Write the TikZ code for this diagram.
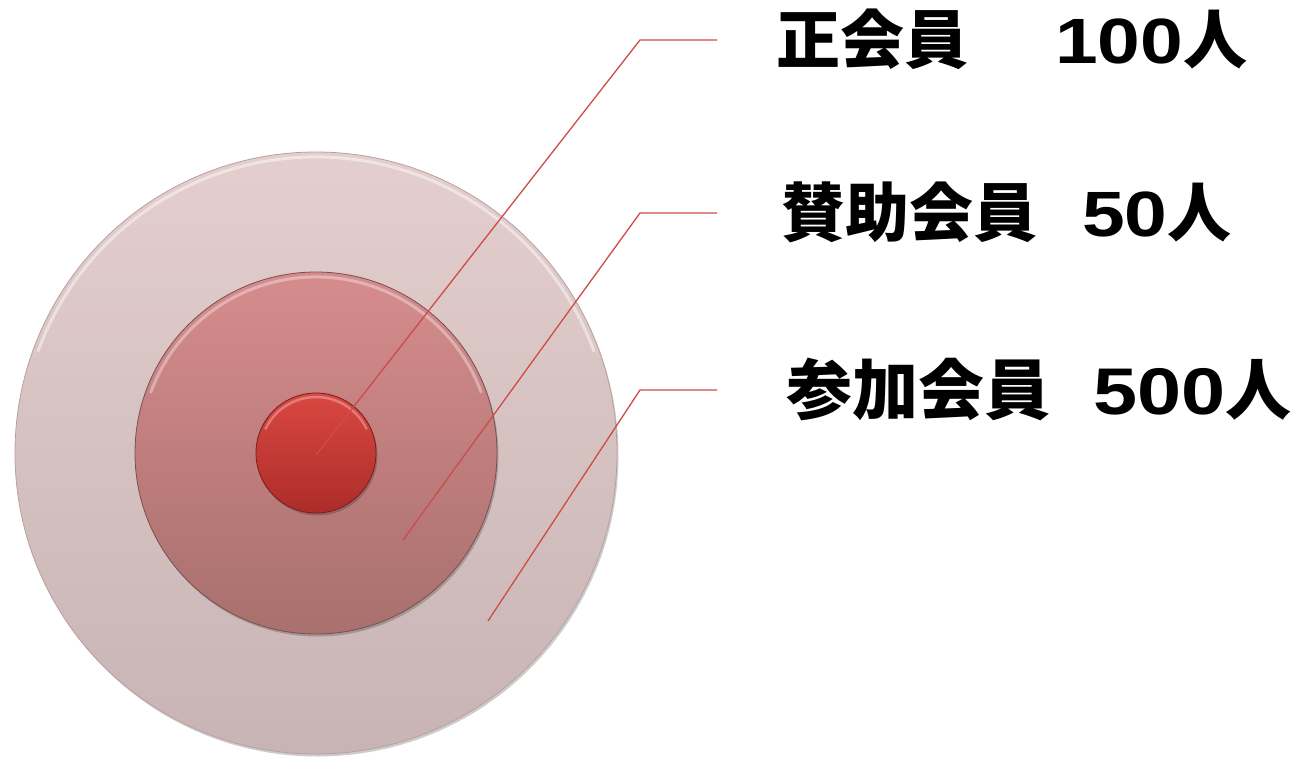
\documentclass[tikz,border=0pt]{standalone}
\usepackage{fontspec}
\newfontfamily\jp{Noto Sans CJK JP}
\newfontfamily\num{Liberation Sans}[FakeStretch=1.2]
\usetikzlibrary{shadows}
\definecolor{ring1t}{RGB}{228,206,206}
\definecolor{ring1b}{RGB}{200,180,180}
\definecolor{ring1e}{RGB}{185,160,160}
\definecolor{ring2t}{RGB}{214,140,140}
\definecolor{ring2b}{RGB}{168,112,110}
\definecolor{ring2e}{RGB}{120,80,80}
\definecolor{ring3t}{RGB}{218,72,66}
\definecolor{ring3b}{RGB}{172,44,40}
\definecolor{ring3e}{RGB}{120,30,28}
\definecolor{leader}{RGB}{205,75,72}
\tikzset{
  disc/.style={circle, inner sep=0pt, draw=#1, line width=0.8pt,
    drop shadow={shadow xshift=1.5pt, shadow yshift=-2.5pt, opacity=0.2, fill=black}},
  lead/.style={draw=leader, line width=1.3pt},
  lbl/.style={anchor=west, inner sep=0pt, font=\jp\bfseries\fontsize{64}{64}\selectfont}
}
\newcommand{\cnt}[1]{{\num\bfseries #1}人}
\begin{document}
\begin{tikzpicture}[x=1pt,y=-1pt]
\useasboundingbox (0,0) rectangle (1299,758);
% rings
\node[disc=ring1e, minimum size=602pt, top color=ring1t, bottom color=ring1b] (outer) at (316,453) {};
\node[disc=ring2e, minimum size=362pt, top color=ring2t, bottom color=ring2b] (middle) at (316,453) {};
\node[disc=ring3e, minimum size=120pt, top color=ring3t, bottom color=ring3b] (inner) at (316,453) {};
% bevel highlights (y axis points down: 270 is the top)
\draw[white, opacity=0.45, line width=3pt] (316,453) ++(200:296) arc[start angle=200, end angle=340, radius=296];
\draw[white, opacity=0.35, line width=3pt] (316,453) ++(200:176) arc[start angle=200, end angle=340, radius=176];
\draw[white, opacity=0.3, line width=2.5pt] (316,453) ++(205:56) arc[start angle=205, end angle=335, radius=56];
% labels
\node[lbl] (l1) at (776,39) {正会員\hspace{1.36em}\cnt{100}};
\node[lbl] (l2) at (781,212) {賛助会員\hspace{0.70em}\cnt{50}};
\node[lbl, font=\jp\bfseries\fontsize{66}{66}\selectfont] (l3) at (786,389) {参加会員\hspace{0.66em}\cnt{500}};
% leader lines
\coordinate (e1) at (316,455);
\coordinate (k1) at (640,40);
\coordinate (h1) at (717,40);
\coordinate (e2) at (403,540);
\coordinate (k2) at (640,213);
\coordinate (h2) at (717,213);
\coordinate (e3) at (488,621);
\coordinate (k3) at (640,390);
\coordinate (h3) at (717,390);
\draw[lead] (e1) -- (k1) -- (h1);
\draw[lead] (e2) -- (k2) -- (h2);
\draw[lead] (e3) -- (k3) -- (h3);
\end{tikzpicture}
\end{document}
